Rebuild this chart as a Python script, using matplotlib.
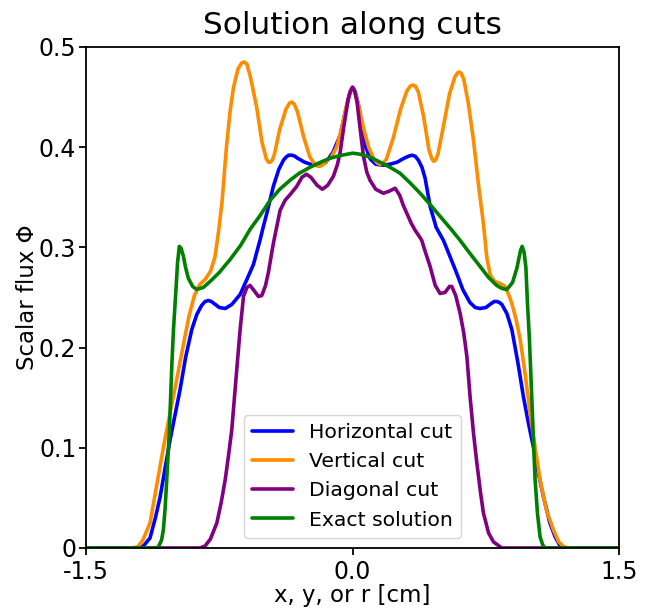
import matplotlib
matplotlib.use("Agg")
import matplotlib.pyplot as plt

# Horizontal cut
x_horiz = [-1.5, -1.2, -1.177, -1.14, -1.11, -1.083, -1.055, -1.027, -0.971, -0.94,
           -0.905, -0.877, -0.85, -0.83, -0.811, -0.795, -0.78, -0.75, -0.717, -0.68,
           -0.633, -0.595, -0.558, -0.52, -0.502, -0.48, -0.446, -0.415, -0.389, -0.375,
           -0.36, -0.342, -0.325, -0.31, -0.27, -0.22, -0.183, -0.15, -0.11, -0.07,
           -0.035, -0.015, 0.0,
           0.015, 0.035, 0.07, 0.10, 0.13, 0.173, 0.21, 0.25, 0.29, 0.315,
           0.333, 0.352, 0.37, 0.39, 0.408, 0.436, 0.47, 0.511, 0.55, 0.586,
           0.62, 0.66, 0.69, 0.717, 0.75, 0.78, 0.797, 0.811, 0.826, 0.84,
           0.868, 0.896, 0.93, 0.961, 0.99, 1.017, 1.045, 1.074, 1.11, 1.14,
           1.168, 1.2, 1.5]
y_horiz = [0.0, 0.0, 0.002, 0.010, 0.03, 0.051, 0.08, 0.108, 0.158, 0.19,
           0.218, 0.233, 0.242, 0.246, 0.247, 0.246, 0.244, 0.240, 0.239, 0.243,
           0.253, 0.268, 0.283, 0.308, 0.321, 0.336, 0.361, 0.378, 0.387, 0.390,
           0.392, 0.392, 0.391, 0.389, 0.385, 0.382, 0.382, 0.385, 0.395, 0.412,
           0.44, 0.455, 0.459,
           0.455, 0.44, 0.402, 0.388, 0.383, 0.382, 0.383, 0.385, 0.389, 0.391,
           0.392, 0.391, 0.387, 0.38, 0.369, 0.341, 0.32, 0.307, 0.29, 0.274,
           0.258, 0.245, 0.240, 0.239, 0.240, 0.244, 0.246, 0.246, 0.245, 0.243,
           0.234, 0.218, 0.185, 0.151, 0.124, 0.101, 0.075, 0.051, 0.025, 0.011,
           0.002, 0.0, 0.0]

# Vertical cut
x_vert = [-1.5, -1.25, -1.21, -1.18, -1.14, -1.10, -1.06, -1.027, -0.99, -0.95,
          -0.92, -0.89, -0.86, -0.83, -0.80, -0.775, -0.755, -0.735, -0.71, -0.69,
          -0.67, -0.645, -0.625, -0.61, -0.595, -0.575, -0.54, -0.51, -0.485, -0.473,
          -0.464, -0.452, -0.44, -0.41, -0.375, -0.355, -0.342, -0.328, -0.31, -0.275,
          -0.24, -0.21, -0.195, -0.183, -0.17, -0.155, -0.12, -0.09, -0.06, -0.03,
          -0.012, 0.0,
          0.012, 0.03, 0.06, 0.09, 0.12, 0.14, 0.155, 0.17, 0.19, 0.23,
          0.27, 0.305, 0.325, 0.339, 0.353, 0.37, 0.40, 0.43, 0.445, 0.455,
          0.467, 0.48, 0.51, 0.545, 0.575, 0.59, 0.599, 0.61, 0.625, 0.65,
          0.68, 0.71, 0.736, 0.755, 0.775, 0.80, 0.83, 0.858, 0.88, 0.896,
          0.92, 0.943, 0.97, 0.999, 1.03, 1.055, 1.09, 1.13, 1.16, 1.19,
          1.22, 1.5]
y_vert = [0.0, 0.0, 0.001, 0.008, 0.025, 0.065, 0.105, 0.135, 0.168, 0.205,
          0.232, 0.252, 0.263, 0.268, 0.276, 0.29, 0.315, 0.345, 0.40, 0.435,
          0.46, 0.478, 0.484, 0.485, 0.483, 0.47, 0.44, 0.405, 0.388, 0.385,
          0.385, 0.387, 0.393, 0.418, 0.438, 0.444, 0.445, 0.443, 0.435, 0.41,
          0.39, 0.382, 0.381, 0.381, 0.382, 0.385, 0.39, 0.40, 0.42, 0.445,
          0.456, 0.459,
          0.456, 0.445, 0.42, 0.40, 0.388, 0.384, 0.383, 0.384, 0.388, 0.41,
          0.438, 0.456, 0.461, 0.462, 0.461, 0.455, 0.43, 0.397, 0.389, 0.386,
          0.387, 0.393, 0.42, 0.453, 0.47, 0.474, 0.475, 0.474, 0.468, 0.445,
          0.407, 0.36, 0.324, 0.29, 0.272, 0.266, 0.264, 0.261, 0.252, 0.244,
          0.228, 0.208, 0.175, 0.134, 0.097, 0.068, 0.038, 0.018, 0.006, 0.001,
          0.0, 0.0]

# Diagonal cut
x_diag = [-1.5, -0.86, -0.83, -0.80, -0.764, -0.74, -0.717, -0.70, -0.68, -0.652,
          -0.633, -0.614, -0.595, -0.577, -0.555, -0.53, -0.511, -0.49, -0.474, -0.446,
          -0.408, -0.38, -0.35, -0.314, -0.285, -0.26, -0.235, -0.2, -0.17, -0.14,
          -0.108, -0.085, -0.07, -0.05, -0.025, -0.01, 0.0,
          0.01, 0.025, 0.042, 0.061, 0.08, 0.098, 0.13, 0.173, 0.205, 0.239,
          0.265, 0.285, 0.305, 0.33, 0.352, 0.375, 0.389, 0.41, 0.436, 0.465,
          0.492, 0.52, 0.545, 0.558, 0.58, 0.605, 0.625, 0.643, 0.661, 0.68,
          0.699, 0.72, 0.736, 0.765, 0.793, 0.84, 1.5]
y_diag = [0.0, 0.0, 0.002, 0.009, 0.025, 0.045, 0.068, 0.09, 0.118, 0.178,
          0.218, 0.251, 0.26, 0.262, 0.257, 0.251, 0.252, 0.262, 0.275, 0.304,
          0.337, 0.347, 0.353, 0.361, 0.37, 0.373, 0.37, 0.362, 0.358, 0.362,
          0.371, 0.383, 0.395, 0.42, 0.448, 0.457, 0.460,
          0.457, 0.445, 0.419, 0.391, 0.375, 0.367, 0.358, 0.354, 0.356, 0.359,
          0.352, 0.342, 0.334, 0.324, 0.317, 0.311, 0.307, 0.295, 0.281, 0.262,
          0.254, 0.255, 0.261, 0.261, 0.252, 0.234, 0.215, 0.191, 0.151, 0.115,
          0.085, 0.055, 0.035, 0.015, 0.006, 0.0, 0.0]

# Exact solution
x_exact = [-1.5, -1.11, -1.093, -1.075, -1.065, -1.055, -1.046, -1.031, -1.017, -1.008,
           -0.993, -0.985, -0.975, -0.965, -0.952, -0.94, -0.924, -0.9, -0.877, -0.84,
           -0.802, -0.75, -0.689, -0.63, -0.577, -0.52, -0.464, -0.41, -0.352, -0.3,
           -0.239, -0.18, -0.127, -0.06, 0.0,
           0.042, 0.1, 0.155, 0.21, 0.267, 0.32, 0.38, 0.435, 0.492, 0.55,
           0.605, 0.66, 0.717, 0.765, 0.811, 0.84, 0.868, 0.9, 0.924, 0.945,
           0.954, 0.965, 0.975, 0.984, 0.995, 1.008, 1.018, 1.027, 1.04, 1.055,
           1.07, 1.083, 1.5]
y_exact = [0.0, 0.0, 0.001, 0.008, 0.018, 0.04, 0.068, 0.118, 0.184, 0.218,
           0.261, 0.285, 0.301, 0.299, 0.291, 0.280, 0.269, 0.261, 0.258, 0.26,
           0.266, 0.275, 0.288, 0.302, 0.318, 0.332, 0.347, 0.358, 0.367, 0.374,
           0.380, 0.385, 0.389, 0.392, 0.394,
           0.393, 0.39, 0.385, 0.380, 0.374, 0.365, 0.354, 0.343, 0.331, 0.319,
           0.307, 0.294, 0.281, 0.27, 0.262, 0.259, 0.258, 0.265, 0.279, 0.297,
           0.301, 0.295, 0.28, 0.244, 0.208, 0.151, 0.105, 0.068, 0.035, 0.011,
           0.003, 0.0, 0.0]

x_ticks = [-1.5, 0.0, 1.5]
x_ticklabels = ["-1.5", "0.0", "1.5"]
y_ticks = [0.0, 0.1, 0.2, 0.3, 0.4, 0.5]
y_ticklabels = ["0", "0.1", "0.2", "0.3", "0.4", "0.5"]

fig = plt.figure(figsize=(6.47, 6.14), dpi=100)
ax = fig.add_axes([0.133, 0.1075, 0.824, 0.816])

lw = 2.6
style = dict(lw=lw, solid_joinstyle="round", solid_capstyle="round")
ax.plot(x_horiz, y_horiz, color="blue", label="Horizontal cut", **style)
ax.plot(x_vert, y_vert, color="darkorange", label="Vertical cut", **style)
ax.plot(x_diag, y_diag, color="purple", label="Diagonal cut", **style)
ax.plot(x_exact, y_exact, color="green", label="Exact solution", **style)

ax.set_xlim(-1.5, 1.5)
ax.set_ylim(0, 0.5)
ax.set_xticks(x_ticks)
ax.set_xticklabels(x_ticklabels)
ax.set_yticks(y_ticks)
ax.set_yticklabels(y_ticklabels)
ax.tick_params(labelsize=17, width=1.3, length=5)
ax.tick_params(axis="x", pad=4)
ax.tick_params(axis="y", pad=2)
for s in ax.spines.values():
    s.set_linewidth(1.3)

ax.set_xlabel("x, y, or r [cm]", fontsize=16.5, labelpad=0)
ax.set_ylabel("Scalar flux Φ", fontsize=16.5, labelpad=0)
ax.set_title("Solution along cuts", fontsize=22.5, pad=9)
ax.legend(loc="lower center", fontsize=14.7)

fig.savefig("out.png", dpi=100)
